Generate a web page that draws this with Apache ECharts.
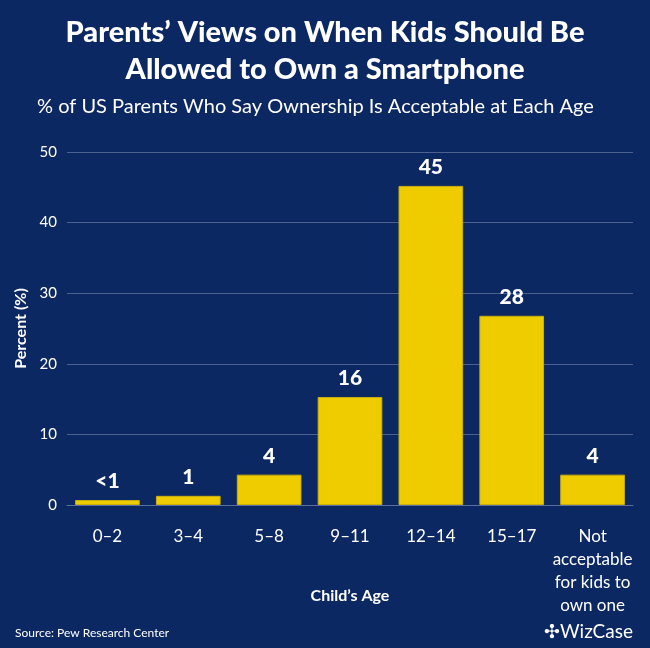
<!DOCTYPE html>
<html><head><meta charset="utf-8">
<script src="https://cdn.jsdelivr.net/npm/echarts@6/dist/echarts.min.js"></script>
<style>html,body{margin:0;padding:0;background:#0b2862;}#c{width:650px;height:648px;}</style>
</head><body><div id="c"></div>
<script>
const categories = ['0–2', '3–4', '5–8', '9–11', '12–14', '15–17', 'Not\nacceptable\nfor kids to\nown one'];
const values = [0.7, 1.3, 4.3, 15.3, 45.2, 26.8, 4.3];
const valueLabels = ['<1', '1', '4', '16', '45', '28', '4'];
const yTicks = [0, 10, 20, 30, 40, 50];

const chart = echarts.init(document.getElementById('c'));
const font = 'Lato, "Open Sans", sans-serif';
chart.setOption({
  backgroundColor: '#0b2862',
  textStyle: { fontFamily: font },
  title: [
    { text: 'Parents’ Views on When Kids Should Be\nAllowed to Own a Smartphone', left: 'center', top: 9,
      textStyle: { color: '#fff', fontSize: 29, fontWeight: 900, lineHeight: 37, fontFamily: font } },
    { text: '% of US Parents Who Say Ownership Is Acceptable at Each Age', left: 32, top: 92,
      textStyle: { color: '#fff', fontSize: 20, fontWeight: 'normal', fontFamily: font } },
    { text: 'Source: Pew Research Center', left: 10, top: 622,
      textStyle: { color: '#fff', fontSize: 12, fontWeight: 'normal', fontFamily: font } },
    { text: '✣WizCase', right: 12, top: 617,
      textStyle: { color: '#fff', fontSize: 19, fontWeight: 'normal', fontFamily: font } }
  ],
  grid: { left: 67, right: 17, top: 152, bottom: 143 },
  xAxis: {
    type: 'category', data: categories,
    name: 'Child’s Age', nameLocation: 'middle', nameGap: 83, nameMoveOverlap: false,
    nameTextStyle: { color: '#fff', fontSize: 16, fontWeight: 'bold', fontFamily: font },
    axisLine: { show: true, lineStyle: { color: '#5a6f9a', width: 1 } },
    axisTick: { show: false },
    axisLabel: { color: '#fff', fontSize: 17, margin: 20, lineHeight: 23, fontFamily: font, interval: 0 }
  },
  yAxis: {
    type: 'value', min: 0, max: 50, interval: 10,
    name: 'Percent (%)', nameLocation: 'middle', nameGap: 38, nameRotate: 90, nameMoveOverlap: false,
    nameTextStyle: { color: '#fff', fontSize: 16, fontWeight: 'bold', fontFamily: font },
    axisLine: { show: false }, axisTick: { show: false },
    axisLabel: { color: '#fff', fontSize: 15, margin: 10, fontFamily: font,
      formatter: v => yTicks.includes(v) ? String(v) : '' },
    splitLine: { lineStyle: { color: '#4c6190', width: 1 } }
  },
  series: [{
    type: 'bar', data: values, barWidth: '80%',
    itemStyle: { color: '#efcc00', borderColor: '#c9ad10', borderWidth: 1 },
    label: { show: true, position: 'top', distance: 8, color: '#fff', fontSize: 21, fontWeight: 900, fontFamily: font,
      formatter: p => valueLabels[p.dataIndex] }
  }]
});
</script></body></html>
